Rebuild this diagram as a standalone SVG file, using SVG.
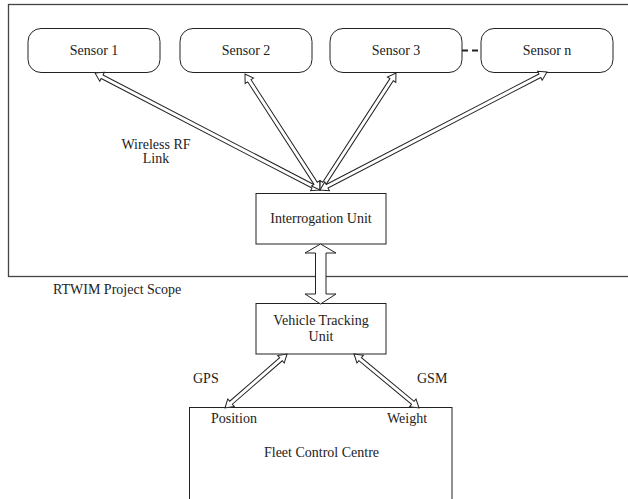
<svg xmlns="http://www.w3.org/2000/svg" width="628" height="499" viewBox="0 0 628 499">
  <style>
    .lbl { font-family: "Liberation Serif", "Times New Roman", serif; font-size: 14px; fill: #222; }
    .mid { text-anchor: middle; }
    .node { fill: #fff; stroke: #222; stroke-width: 1; }
    .scope { fill: none; stroke: #444; stroke-width: 1.3; }
    .arrow { fill: #fff; stroke: #222; stroke-width: 1; stroke-linejoin: miter; }
    .dash { stroke: #222; stroke-width: 2; stroke-dasharray: 6 4; fill: none; }
  </style>

  <!-- project scope boundary -->
  <g id="scope">
    <rect class="scope" x="8.5" y="4.5" width="640" height="272"/>
    <text class="lbl" x="53" y="294">RTWIM Project Scope</text>
    <text class="lbl mid" x="156" y="149">Wireless RF</text>
    <text class="lbl mid" x="156" y="163">Link</text>
  </g>

  <g id="sensor1">
    <rect class="node" x="28" y="28.5" width="132" height="44" rx="13"/>
    <text class="lbl mid" x="94" y="55">Sensor 1</text>
  </g>
  <g id="sensor2">
    <rect class="node" x="180" y="28.5" width="132" height="44" rx="13"/>
    <text class="lbl mid" x="246" y="55">Sensor 2</text>
  </g>
  <g id="sensor3">
    <rect class="node" x="330" y="28.5" width="132" height="44" rx="13"/>
    <text class="lbl mid" x="396" y="55">Sensor 3</text>
  </g>
  <g id="sensorN">
    <rect class="node" x="481" y="28.5" width="132" height="44" rx="13"/>
    <text class="lbl mid" x="547" y="55">Sensor n</text>
  </g>

  <g id="interrogation">
    <rect class="node" x="256" y="193.5" width="130" height="50.5"/>
    <text class="lbl mid" x="321" y="223">Interrogation Unit</text>
  </g>

  <g id="vehicle">
    <rect class="node" x="256" y="303.5" width="130" height="50.5"/>
    <text class="lbl mid" x="321" y="325">Vehicle Tracking</text>
    <text class="lbl mid" x="321" y="341">Unit</text>
  </g>

  <g id="fleet">
    <rect class="node" x="189.5" y="407.5" width="262.5" height="100"/>
    <text class="lbl" x="211" y="423">Position</text>
    <text class="lbl" x="387" y="423">Weight</text>
    <text class="lbl mid" x="321.5" y="457">Fleet Control Centre</text>
  </g>

  <g id="connectors">
    <!-- sensor chain continuation -->
    <line class="dash" x1="462" y1="50.5" x2="481" y2="50.5"/>

    <!-- wireless RF links -->
    <polygon class="arrow" transform="translate(320,190) rotate(207.47)"
      points="0,0 8,-5 8,-2 245.6,-2 245.6,-5 253.6,0 245.6,5 245.6,2 8,2 8,5"/>
    <polygon class="arrow" transform="translate(320,190) rotate(-122.9)"
      points="0,0 8,-5 8,-2 130.1,-2 130.1,-5 138.1,0 130.1,5 130.1,2 8,2 8,5"/>
    <polygon class="arrow" transform="translate(320,190) rotate(-57.0)"
      points="0,0 8,-5 8,-2 131.5,-2 131.5,-5 139.5,0 131.5,5 131.5,2 8,2 8,5"/>
    <polygon class="arrow" transform="translate(320,190) rotate(-27.46)"
      points="0,0 8,-5 8,-2 247.8,-2 247.8,-5 255.8,0 247.8,5 247.8,2 8,2 8,5"/>

    <!-- interrogation unit to vehicle tracking unit -->
    <polygon class="arrow" points="320.5,244 336,253 326,253 326,294 336,294 320.5,304 305,294 315.5,294 315.5,253 305,253"/>

    <!-- GPS and GSM links -->
    <polygon class="arrow" transform="translate(287,354) rotate(138.95)"
      points="0,0 8,-5 8,-2 74.2,-2 74.2,-5 82.2,0 74.2,5 74.2,2 8,2 8,5"/>
    <polygon class="arrow" transform="translate(354,354) rotate(39.72)"
      points="0,0 8,-5 8,-2 76.5,-2 76.5,-5 84.5,0 76.5,5 76.5,2 8,2 8,5"/>
    <text class="lbl" x="193" y="383">GPS</text>
    <text class="lbl" x="417" y="383">GSM</text>
  </g>
</svg>
